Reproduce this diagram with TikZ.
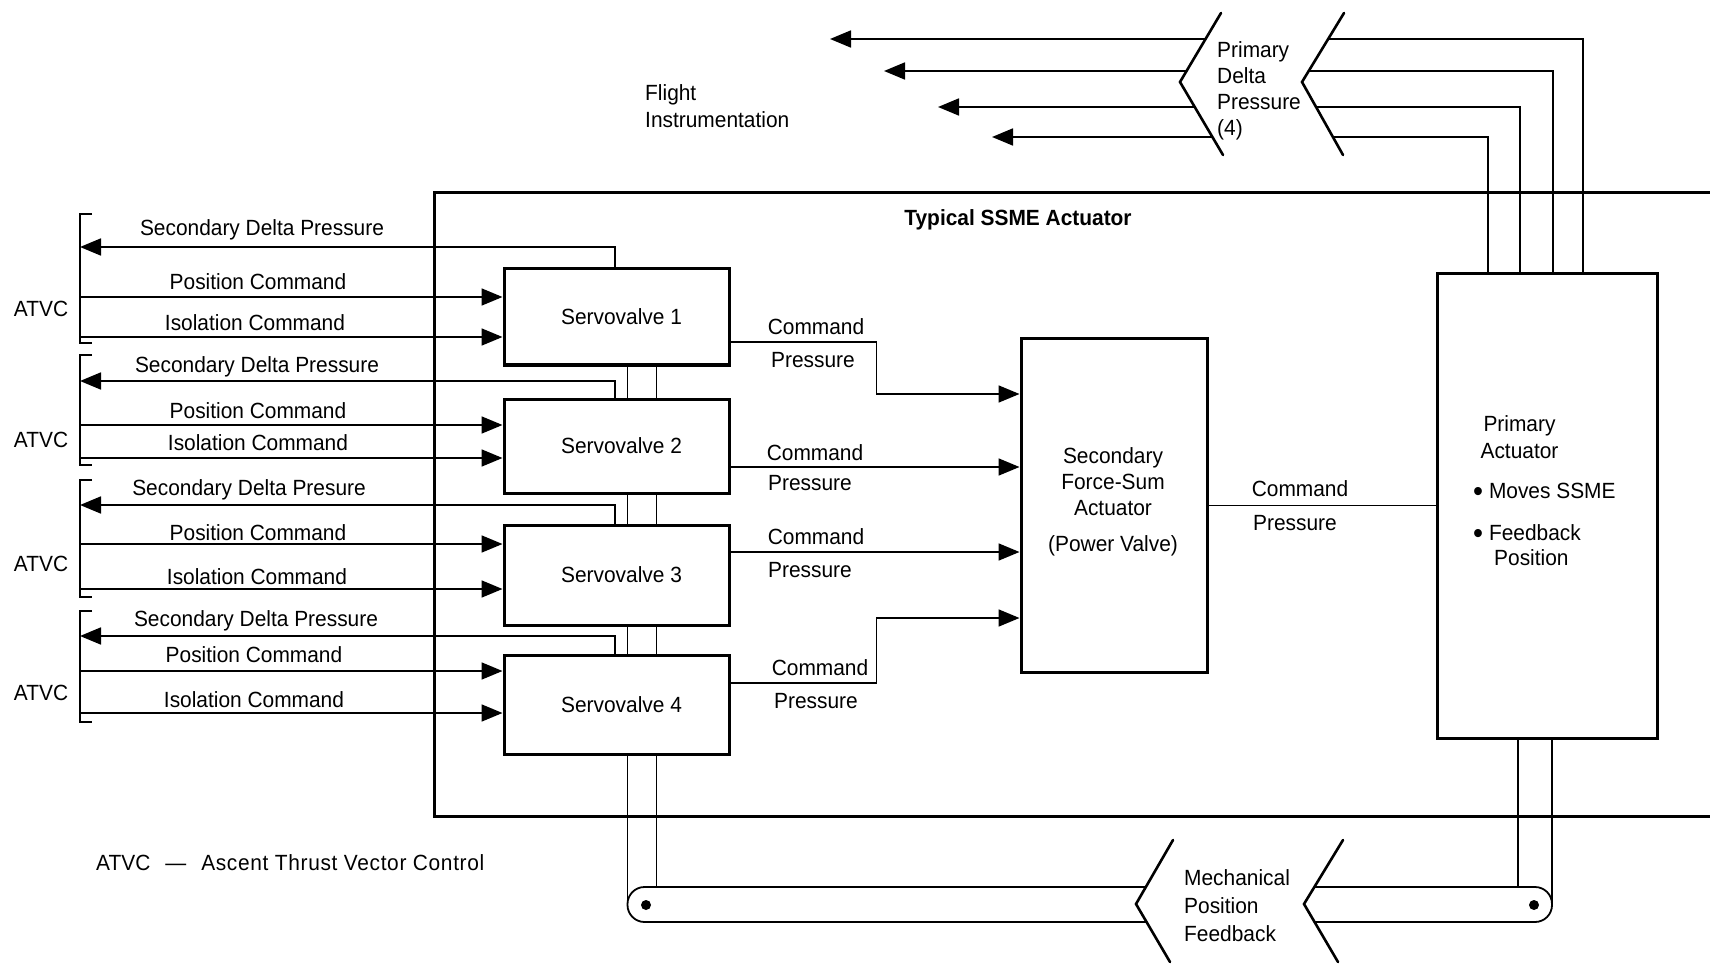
\documentclass[tikz,border=0pt]{standalone}
\usepackage{fontspec}
\setmainfont{Liberation Sans}[FakeStretch=0.95]
\usepackage{tikz}
\usetikzlibrary{arrows.meta}

\newcommand{\lblfont}{\fontsize{22}{26}\selectfont}
\newcommand{\bigbullet}{\raisebox{-3pt}{\fontsize{30}{26}\selectfont\textbullet}}

\begin{document}
\begin{tikzpicture}[x=1pt,y=-1pt,font=\lblfont,
  sig/.style={line width=1.8pt},
  arr/.style={sig,-{Triangle[length=21pt,width=17pt]}},
  heavy/.style={line width=3pt},
  box/.style={draw,line width=3pt,inner sep=0pt,align=center},
  brk/.style={line width=2.6pt,line cap=round},
  lbl/.style={anchor=base,inner sep=0pt}]

\useasboundingbox (0,0) rectangle (1710,965);

% ============================
% ACTUATOR FRAME
% ============================

\draw[heavy] (1710,193) -- (434,193) -- (434,816) -- (1710,816);
\node[lbl,font=\lblfont\bfseries] (title) at (1018,226) {Typical SSME Actuator};

% ============================
% BOXES
% ============================

% Servovalves
\foreach \i/\yc/\h in {1/317/96, 2/446/94, 3/575/100, 4/704.5/99}
  \node[box,minimum width=225pt,minimum height=\h pt] (sv\i) at (616.5,\yc)
    {\hspace*{10pt}Servovalve \i};

% Secondary force-sum actuator
\node[box,minimum width=186pt,minimum height=333pt] (sfsa) at (1114,505.5) {};
\node[anchor=north,inner sep=0pt,align=center] (sfsatxt) at (1113,447)
  {Secondary\\Force-Sum\\Actuator\\[10pt](Power Valve)};

% Primary actuator
\node[box,minimum width=220pt,minimum height=464pt] (prim) at (1547,506) {};
\node[anchor=north,inner sep=0pt,align=center,font=\fontsize{22}{27}\selectfont] (primtxt)
  at (1519.5,415) {Primary\\Actuator};
\node[anchor=base west,inner sep=0pt] (moves) at (1473,498) {\bigbullet\ Moves SSME};
\node[anchor=base west,inner sep=0pt] (feedb) at (1473,540) {\bigbullet\ Feedback};
\node[anchor=base west,inner sep=0pt] (feedp) at (1494,565) {Position};

% ============================
% ATVC SIGNALS
% ============================

% Brackets
\foreach \t/\b in {214/343, 355/465, 480/597, 611/722}
  \draw[line width=2.2pt] (92,\t) -- (80,\t) -- (80,\b) -- (92,\b);

\foreach \y [count=\k] in {317,447,571,700}
  \node[lbl] (atvc\k) at (41,\y) {ATVC};

% Secondary delta pressure, position and isolation commands
\foreach \i/\ys/\yp/\yi in {1/247/297/337, 2/381/425/458, 3/505/544/589, 4/636/671/713} {
  \coordinate (sdp\i) at (80,\ys);
  \coordinate (pc\i) at (80,\yp);
  \coordinate (ic\i) at (80,\yi);
  \draw[arr] ([xshift=-1.5pt]sv\i.north) |- (sdp\i);
  \draw[arr] (pc\i) -- (pc\i -| sv\i.west);
  \draw[arr] (ic\i) -- (ic\i -| sv\i.west);
}

\foreach \n/\x/\y/\t in {
  sdpl1/262/236/Secondary Delta Pressure, pcl1/258/290/Position Command, icl1/255/331/Isolation Command,
  sdpl2/257/372/Secondary Delta Pressure, pcl2/258/418/Position Command, icl2/258/450/Isolation Command,
  sdpl3/249/495/Secondary Delta Presure,  pcl3/258/540/Position Command, icl3/257/584/Isolation Command,
  sdpl4/256/626/Secondary Delta Pressure, pcl4/254/662/Position Command, icl4/254/707/Isolation Command}
  \node[lbl] (\n) at (\x,\y) {\t};

% Links between servovalves
\foreach \i/\j in {1/2, 2/3, 3/4} {
  \draw[sig] ([xshift=11pt]sv\i.south) -- ([xshift=11pt]sv\j.north);
  \draw[sig] ([xshift=40pt]sv\i.south) -- ([xshift=40pt]sv\j.north);
}

% ============================
% COMMAND PRESSURE
% ============================

\draw[arr] ([yshift=-25pt]sv1.east) -- ++(146,0) |- ([yshift=111.5pt]sfsa.west);
\draw[arr] ([yshift=-21pt]sv2.east) -- ([yshift=-21pt]sv2.east -| sfsa.west);
\draw[arr] ([yshift=23pt]sv3.east) -- ([yshift=23pt]sv3.east -| sfsa.west);
\draw[arr] ([yshift=21.5pt]sv4.east) -- ++(146,0) |- ([yshift=-112.5pt]sfsa.west);
\draw[sig] (sfsa.east) -- (sfsa.east -| prim.west);

\foreach \x/\y/\t [count=\k] in {
  816/335/Command, 813/367/Pressure, 815/460/Command, 810/490/Pressure,
  816/544/Command, 810/577/Pressure, 820/675/Command, 816/708/Pressure,
  1300/496/Command, 1295/530/Pressure}
  \node[lbl] (cp\k) at (\x,\y) {\t};

% ============================
% PRIMARY DELTA PRESSURE
% ============================

\draw[brk] (1221,13) -- (1180,82) -- (1223,155);
\draw[brk] (1344,13) -- (1302,82) -- (1343,155);
\node[anchor=north west,inner sep=0pt,align=left] (pdp) at (1217,41)
  {Primary\\Delta\\Pressure\\(4)};

\foreach \i/\y/\dx/\xr/\xl/\xt in {1/39/36/1328/1206/830, 2/71/6/1309/1187/884,
                                   3/107/-27/1316/1195/938, 4/137/-59/1333/1212/992} {
  \coordinate (pr\i) at (\xr,\y);
  \coordinate (pl\i) at (\xl,\y);
  \coordinate (pt\i) at (\xt,\y);
  \draw[sig] ([xshift=\dx pt]prim.north) |- (pr\i);
  \draw[arr] (pl\i) -- (pt\i);
}

\node[anchor=north west,inner sep=0pt,align=left,font=\fontsize{22}{27}\selectfont] (flight)
  at (645,84) {Flight\\Instrumentation};

% ============================
% MECHANICAL POSITION FEEDBACK
% ============================

\coordinate (rodL) at (627.5,904.5);
\coordinate (rodR) at (1552,904.5);
\coordinate (rodT) at (0,887);

\draw[sig] ([xshift=11pt]sv4.south) -- (rodL);
\draw[sig] ([xshift=40pt]sv4.south) -- ([xshift=40pt]sv4.south |- rodT);
\draw[sig] ([xshift=5pt]prim.south) -- (rodR);
\draw[sig] ([xshift=-29pt]prim.south) -- ([xshift=-29pt]prim.south |- rodT);

\draw[sig,rounded corners=17pt] (1146,887) -- (627.5,887) -- (627.5,922) -- (1147,922);
\draw[sig,rounded corners=17pt] (1314,887) -- (1552,887) -- (1552,922) -- (1315,922);
\fill (646,905) circle (5pt);
\fill (1534,905) circle (5pt);

\draw[brk] (1173,840) -- (1136,904) -- (1170,962);
\draw[brk] (1343,840) -- (1304,904) -- (1338,962);
\node[anchor=north west,inner sep=0pt,align=left,font=\fontsize{22}{28}\selectfont] (mpf)
  at (1184,869) {Mechanical\\Position\\Feedback};

% Legend
\node[anchor=base west,inner sep=0pt] (legend) at (96,870)
  {ATVC\hspace{15pt}—\hspace{15pt}\addfontfeature{LetterSpace=3}Ascent Thrust Vector Control};

\end{tikzpicture}
\end{document}
